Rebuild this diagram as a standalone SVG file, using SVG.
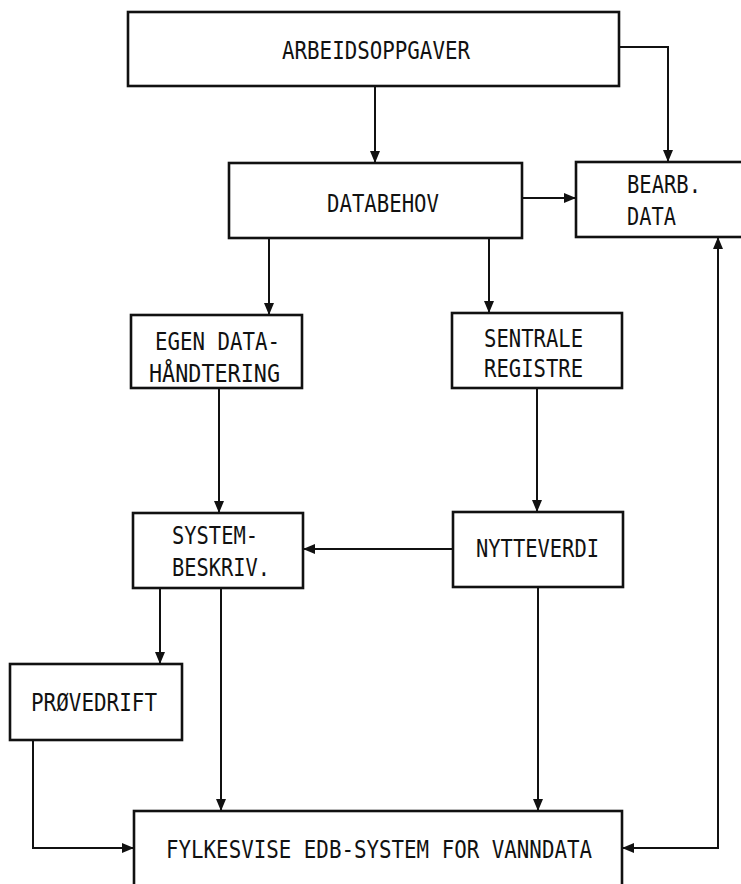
<svg xmlns="http://www.w3.org/2000/svg" width="741" height="884" viewBox="0 0 741 884">
<style>
.box{fill:#fff;stroke:#111;stroke-width:2.6}
.lbl{font-family:"DejaVu Sans Mono","Liberation Mono",monospace;font-size:24px;fill:#111}
.con{fill:none;stroke:#111;stroke-width:2}
</style>
<defs>
<marker id="ah" viewBox="0 0 12 10" refX="12" refY="5" markerWidth="12" markerHeight="10" markerUnits="userSpaceOnUse" orient="auto-start-reverse">
<path d="M0,0 L12,5 L0,10 Z" fill="#111"/>
</marker>
</defs>
<rect width="741" height="884" fill="#fff"/>
<g id="connectors">
<path class="con" d="M619,47 H668 V162" marker-end="url(#ah)"/>
<path class="con" d="M375,86 V163" marker-end="url(#ah)"/>
<path class="con" d="M522,198 H576" marker-end="url(#ah)"/>
<path class="con" d="M269,238 V315" marker-end="url(#ah)"/>
<path class="con" d="M489,238 V313" marker-end="url(#ah)"/>
<path class="con" d="M219,388 V513" marker-end="url(#ah)"/>
<path class="con" d="M537,388 V512" marker-end="url(#ah)"/>
<path class="con" d="M453,549 H303" marker-end="url(#ah)"/>
<path class="con" d="M160,588 V664" marker-end="url(#ah)"/>
<path class="con" d="M221,588 V811" marker-end="url(#ah)"/>
<path class="con" d="M538,587 V811" marker-end="url(#ah)"/>
<path class="con" d="M33,740 V848 H134" marker-end="url(#ah)"/>
<path class="con" d="M622,848 H718 V237" marker-start="url(#ah)" marker-end="url(#ah)"/>
</g>
<g id="arbeidsoppgaver">
<rect class="box" x="128" y="12" width="491" height="74"/>
<text class="lbl" x="282" y="59" textLength="188" lengthAdjust="spacingAndGlyphs">ARBEIDSOPPGAVER</text>
</g>
<g id="databehov">
<rect class="box" x="229" y="163" width="293" height="75"/>
<text class="lbl" x="327" y="212" textLength="112" lengthAdjust="spacingAndGlyphs">DATABEHOV</text>
</g>
<g id="bearb-data">
<rect class="box" x="576" y="162" width="170" height="75"/>
<text class="lbl" x="627" y="193" textLength="74" lengthAdjust="spacingAndGlyphs">BEARB.</text>
<text class="lbl" x="627" y="225" textLength="49" lengthAdjust="spacingAndGlyphs">DATA</text>
</g>
<g id="egen-datahandtering">
<rect class="box" x="131" y="315" width="171" height="73"/>
<text class="lbl" x="155" y="350" textLength="125" lengthAdjust="spacingAndGlyphs">EGEN DATA-</text>
<text class="lbl" x="149" y="382" textLength="131" lengthAdjust="spacingAndGlyphs">HÅNDTERING</text>
</g>
<g id="sentrale-registre">
<rect class="box" x="452" y="313" width="170" height="75"/>
<text class="lbl" x="484" y="347" textLength="99" lengthAdjust="spacingAndGlyphs">SENTRALE</text>
<text class="lbl" x="484" y="377" textLength="99" lengthAdjust="spacingAndGlyphs">REGISTRE</text>
</g>
<g id="systembeskriv">
<rect class="box" x="133" y="513" width="170" height="75"/>
<text class="lbl" x="172" y="544" textLength="86" lengthAdjust="spacingAndGlyphs">SYSTEM-</text>
<text class="lbl" x="172" y="576" textLength="98" lengthAdjust="spacingAndGlyphs">BESKRIV.</text>
</g>
<g id="nytteverdi">
<rect class="box" x="453" y="512" width="170" height="75"/>
<text class="lbl" x="476" y="557" textLength="123" lengthAdjust="spacingAndGlyphs">NYTTEVERDI</text>
</g>
<g id="provedrift">
<rect class="box" x="10" y="664" width="172" height="76"/>
<text class="lbl" x="31" y="711" textLength="126" lengthAdjust="spacingAndGlyphs">PRØVEDRIFT</text>
</g>
<g id="fylkesvise">
<rect class="box" x="134" y="811" width="488" height="80"/>
<text class="lbl" x="166" y="858" textLength="426" lengthAdjust="spacingAndGlyphs">FYLKESVISE EDB-SYSTEM FOR VANNDATA</text>
</g>
</svg>
